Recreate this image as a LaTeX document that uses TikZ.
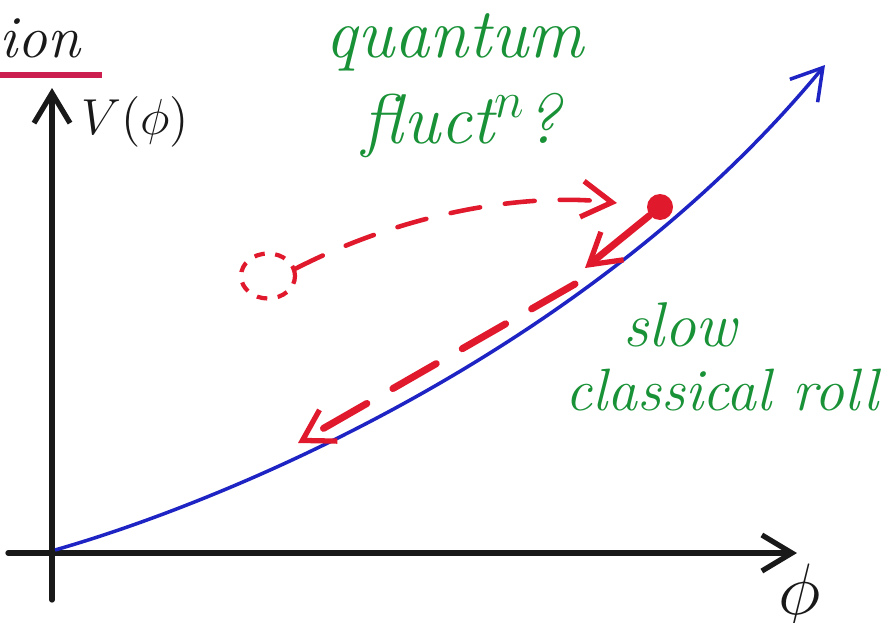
\documentclass[tikz,border=0pt]{standalone}
\usepackage{tikz}
\usetikzlibrary{arrows.meta,shapes.geometric}
\definecolor{PenBlack}{RGB}{25,25,25}
\definecolor{PenRed}{RGB}{225,25,45}
\definecolor{PenCrimson}{RGB}{205,30,80}
\definecolor{PenGreen}{RGB}{25,145,55}
\definecolor{PenBlue}{RGB}{30,35,195}

\begin{document}
\begin{tikzpicture}[x=0.1mm,y=-0.1mm,
    axis/.style={PenBlack,line width=1.5pt,line cap=round},
    redpen/.style={PenRed,line width=1.5pt,line cap=round},
    barb/.style={-{Straight Barb[length=3mm,width=3.6mm,line width=1.5pt]}},
    hand/.style={inner sep=0pt,font=\itshape}]
      \useasboundingbox (0,0) rectangle (894,623);

      \node[hand,PenBlack,font=\fontsize{17}{19}\selectfont\itshape] (title) at (40,38) {ion};
      \draw[PenCrimson,line width=1.5pt] (0,75) -- (102,75);

      \coordinate (origin) at (52,553);
      \coordinate (ytop) at (52,88);
      \coordinate (ybot) at (52,600);
      \coordinate (xleft) at (8,553);
      \coordinate (xright) at (797,553);
      \draw[axis,barb] (ybot) -- (ytop);
      \draw[axis,barb] (xleft) -- (xright);
      \node[PenBlack,font=\fontsize{14.5}{16}\selectfont] (vlabel) at (135,122) {$V(\phi)$};
      \node[PenBlack,font=\fontsize{20}{22}\selectfont] (philabel) at (800,596) {$\phi$};

      \coordinate (curvestart) at (55,550);
      \coordinate (curveend) at (825,65);
      \draw[PenBlue,line width=1pt,-{Straight Barb[length=3mm,width=3.6mm,line width=1pt]}]
        (curvestart) .. controls (230,500) and (590,350) .. (curveend);

      \node[circle,fill=PenRed,minimum size=2.6mm,inner sep=0pt] (ball) at (660,207) {};
      \coordinate (rollend) at (585,268);
      \draw[redpen,line width=2pt,barb] (ball) -- (rollend);
      \coordinate (slowstart) at (575,284);
      \coordinate (slowend) at (298,443);
      \draw[redpen,line width=2pt,dash pattern=on 5mm off 3mm,barb] (slowstart) -- (slowend);

      \node[draw=PenRed,dashed,line width=1.2pt,ellipse,minimum width=5.4mm,minimum height=4.5mm,inner sep=0pt] (ghost) at (268,276) {};
      \coordinate (jumpend) at (617,203);
      \draw[redpen,line width=1.3pt,dash pattern=on 3mm off 2.5mm,barb]
        (ghost.15) .. controls (400,215) and (520,192) .. (jumpend);

      \node[hand,PenGreen,font=\fontsize{20}{22}\selectfont\itshape] (quantum) at (455,42) {quantum};
      \node[hand,PenGreen,font=\fontsize{20}{22}\selectfont\itshape] (fluct) at (462,126) {fluct$^{n}$?};
      \node[hand,PenGreen,font=\fontsize{18}{20}\selectfont\itshape] (slow) at (680,325) {slow};
      \node[hand,PenGreen,font=\fontsize{17}{19}\selectfont\itshape] (roll) at (722,390) {classical roll};
    \end{tikzpicture}
\end{document}
